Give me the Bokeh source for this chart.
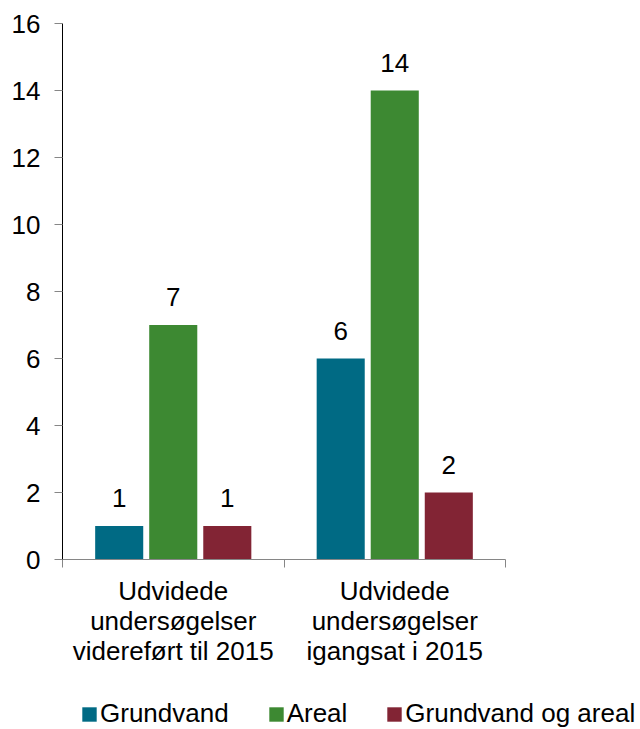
from bokeh.plotting import figure
from bokeh.models import ColumnDataSource, Range1d, FixedTicker, Legend, LegendItem
from bokeh.transform import dodge
from bokeh.core.properties import value
from bokeh.embed import file_html
from bokeh.resources import INLINE

# ---- data ----
categories = [
    "Udvidede\nundersøgelser\nvidereført til 2015",
    "Udvidede\nundersøgelser\nigangsat i 2015",
]
series_names = ["Grundvand", "Areal", "Grundvand og areal"]
grundvand = [1, 6]
areal = [7, 14]
grundvand_og_areal = [1, 2]
y_ticks = [0, 2, 4, 6, 8, 10, 12, 14, 16]

# ---- style ----
FONT = "Liberation Sans"
colors = ["#006A84", "#3D8932", "#822434"]
offsets = [-0.244, 0.0, 0.244]
bar_width = 0.217

centers = [i + 0.5 for i in range(len(categories))]
boundaries = list(range(len(categories) + 1))

series_values = [grundvand, areal, grundvand_og_areal]
data = dict(x=centers)
for k, vals in enumerate(series_values):
    data[f"v{k}"] = vals
    data[f"t{k}"] = [str(v) for v in vals]
source = ColumnDataSource(data)

p = figure(
    width=640, height=690,
    x_range=Range1d(boundaries[0], boundaries[-1]),
    y_range=Range1d(y_ticks[0], y_ticks[-1]),
    output_backend="svg", toolbar_location=None,
    min_border_left=62, min_border_right=135,
    min_border_top=23, min_border_bottom=131,
)
p.outline_line_color = None
p.grid.visible = False
p.background_fill_color = "white"
p.border_fill_color = "white"

# y axis
p.yaxis.ticker = FixedTicker(ticks=y_ticks)
p.yaxis.axis_line_color = "#000000"
p.yaxis.axis_line_width = 1
p.yaxis.major_tick_line_color = "#868686"
p.yaxis.major_tick_out = 8
p.yaxis.major_tick_in = 0
p.yaxis.minor_tick_line_color = None
p.yaxis.major_label_standoff = 14
p.yaxis.major_label_text_font = FONT
p.yaxis.major_label_text_font_size = "26px"
p.yaxis.major_label_text_color = "#000000"

# x axis
p.xaxis.ticker = FixedTicker(ticks=centers, minor_ticks=boundaries)
p.xaxis.axis_line_color = "#868686"
p.xaxis.major_tick_line_color = None
p.xaxis.major_tick_out = 0
p.xaxis.major_tick_in = 0
p.xaxis.minor_tick_line_color = "#868686"
p.xaxis.minor_tick_out = 8
p.xaxis.minor_tick_in = 0
p.xaxis.major_label_overrides = {c: lab for c, lab in zip(centers, categories)}
p.xaxis.major_label_standoff = 8
p.xaxis.major_label_text_line_height = 1.0
p.xaxis.major_label_text_font = FONT
p.xaxis.major_label_text_font_size = "26px"
p.xaxis.major_label_text_color = "#000000"

for k, name in enumerate(series_names):
    p.vbar(
        x=dodge("x", offsets[k], range=p.x_range), top=f"v{k}", width=bar_width,
        source=source, fill_color=colors[k], line_color=None,
    )
    p.text(
        x=dodge("x", offsets[k], range=p.x_range), y=f"v{k}", text=f"t{k}",
        source=source, text_align="center", text_baseline="alphabetic",
        y_offset=-28, text_font=value(FONT), text_font_size="26px",
        text_color="#000000",
    )

# ---- legend strip (separate root below the chart) ----
lf = figure(
    width=640, height=39, x_range=Range1d(10, 11), y_range=Range1d(100, 101),
    x_axis_type=None, y_axis_type=None, output_backend="svg",
    toolbar_location=None, min_border=0,
)
lf.outline_line_color = None
lf.grid.visible = False
items = []
for k, name in enumerate(series_names):
    r = lf.vbar(x="x", top=f"v{k}", width=bar_width, source=source,
                fill_color=colors[k], line_color=None)
    items.append(LegendItem(label=name, renderers=[r]))
legend = Legend(
    items=items, location=(80, 0), orientation="horizontal",
    label_text_font=FONT, label_text_font_size="26px", label_text_color="#000000",
    glyph_width=18, glyph_height=18, label_standoff=2, spacing=38,
    padding=0, margin=0, border_line_color=None, background_fill_alpha=0,
)
lf.add_layout(legend)

open("out.html", "w").write(file_html([p, lf], INLINE))
